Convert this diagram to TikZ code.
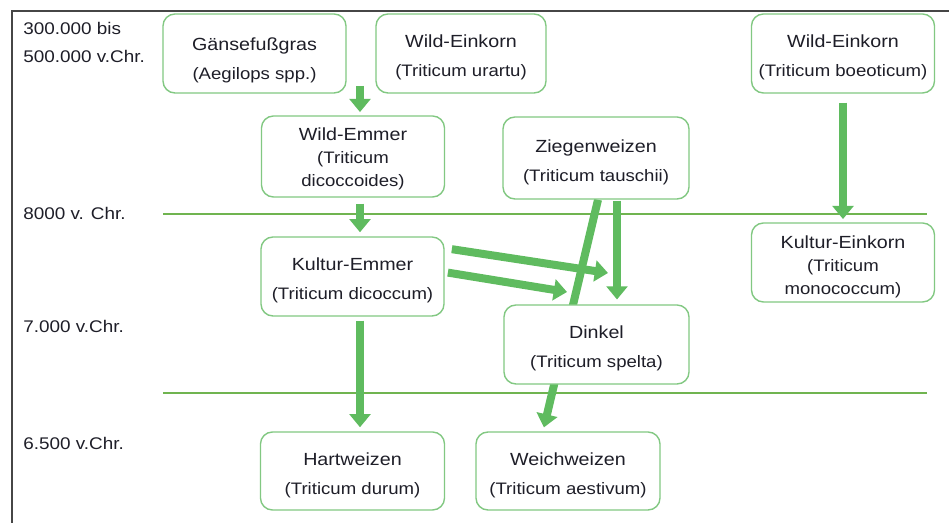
\documentclass[tikz,border=0pt]{standalone}
\usepackage{fontspec}
\setmainfont[FakeStretch=1.12]{Liberation Sans}
\usetikzlibrary{arrows.meta,positioning,backgrounds}
\definecolor{wzgreen}{RGB}{95,187,95}
\definecolor{wzbox}{RGB}{130,200,130}
\definecolor{wzline}{RGB}{112,180,80}
\definecolor{wzframe}{RGB}{70,70,70}
\definecolor{wztext}{RGB}{30,30,40}
% title line of a box, with a strut that pushes the text down
\newcommand{\sorte}[2][14.5pt]{{\fontsize{12.5}{16.5}\selectfont\rule{0pt}{#1}#2}}

\begin{document}
\begin{tikzpicture}[x=0.025cm, y=-0.025cm, text=wztext,
  sortbox/.style={draw=wzbox, line width=1pt, rounded corners=0.3cm, fill=white, align=center,
    minimum width=4.575cm, minimum height=1.975cm, inner sep=2pt, font=\fontsize{11.8}{16.5}\selectfont},
  zeit/.style={anchor=west, inner sep=0pt, font=\fontsize{12}{14}\selectfont},
  wzarrow/.style={wzgreen, line width=0.2cm, -{Triangle[width=0.52cm, length=0.33cm]}},
  zeitlinie/.style={wzline, line width=1.1pt}]
\useasboundingbox (0,0) rectangle (949,523);
% frame
\draw[wzframe, line width=1.3pt] (12,523) -- (12,11) -- (949,11);
% time marks
\node[zeit] (t300) at (23,28) {300.000 bis};
\node[zeit] (t500) at (23,56) {500.000 v.Chr.};
\node[zeit] (t8000) at (23,213) {8000 v. Chr.};
\node[zeit] (t7000) at (23,326) {7.000 v.Chr.};
\node[zeit] (t6500) at (23,443) {6.500 v.Chr.};

% wild species
\node[sortbox] (gansefuss) at (254.5,53.5) {\sorte[19pt]{Gänsefußgras}\\[4.5pt](Aegilops spp.)};
\node[sortbox, minimum width=4.25cm] (urartu) at (461,53.5) {\sorte{Wild-Einkorn}\\[4.5pt](Triticum urartu)};
\node[sortbox] (boeoticum) at (843,53.5) {\sorte{Wild-Einkorn}\\[4.5pt](Triticum boeoticum)};
\node[sortbox, minimum height=2.025cm] (wemmer) at (353,156.5) {\sorte[12pt]{Wild-Emmer}\\(Triticum\\dicoccoides)};
\node[sortbox, minimum width=4.65cm, minimum height=2.05cm] (ziegen) at (596,158) {\sorte[15.5pt]{Ziegenweizen}\\[4.5pt](Triticum tauschii)};

% cultivated species
\node[sortbox] (kemmer) at (352.5,276.5) {\sorte{Kultur-Emmer}\\[4.5pt](Triticum dicoccum)};
\node[sortbox] (keinkorn) at (843,262.5) {\sorte[15.5pt]{Kultur-Einkorn}\\(Triticum\\monococcum)};
\node[sortbox, minimum width=4.625cm] (dinkel) at (596.5,344.5) {\sorte{Dinkel}\\[4.5pt](Triticum spelta)};
\node[sortbox, minimum width=4.6cm, minimum height=1.95cm] (hart) at (352.5,471) {\sorte[15.5pt]{Hartweizen}\\[4.5pt](Triticum durum)};
\node[sortbox, minimum width=4.6cm, minimum height=1.95cm] (weich) at (568,471) {\sorte[15.5pt]{Weichweizen}\\[4.5pt](Triticum aestivum)};

% time lines and hidden diagonal
\begin{scope}[on background layer]
\draw[zeitlinie] (163,214) -- (927,214);
\draw[zeitlinie] (163,393) -- (927,393);
\coordinate (weichx) at (543,0);
\draw[wzarrow, shorten >=0.1cm] ([xshift=0.05cm]ziegen.south) -- (weich.north -| weichx);
\end{scope}

% arrows
\coordinate (wurzel) at (360,86);
\draw[wzarrow, shorten >=0.08cm] (wurzel) -- (wurzel |- wemmer.north);
\draw[wzarrow, shorten <=0.15cm, shorten >=0.1cm] (wemmer.south -| wurzel) -- (kemmer.north -| wurzel);
\draw[wzarrow, shorten <=0.1cm, shorten >=0.1cm] (kemmer.south -| wurzel) -- (hart.north -| wurzel);
\draw[wzarrow, shorten <=0.22cm, shorten >=0.08cm] (boeoticum.south) -- (keinkorn.north);
\coordinate (tauschx) at (617,0);
\draw[wzarrow, shorten <=0.02cm, shorten >=0.12cm] (ziegen.south -| tauschx) -- (dinkel.north -| tauschx);
\coordinate (zieg1) at (608,273);
\coordinate (zieg2) at (567,292);
\draw[wzarrow, shorten <=0.18cm] ([yshift=0.71cm]kemmer.east) -- (zieg1);
\draw[wzarrow, shorten <=0.08cm] ([yshift=0.11cm]kemmer.east) -- (zieg2);
\end{tikzpicture}
\end{document}
